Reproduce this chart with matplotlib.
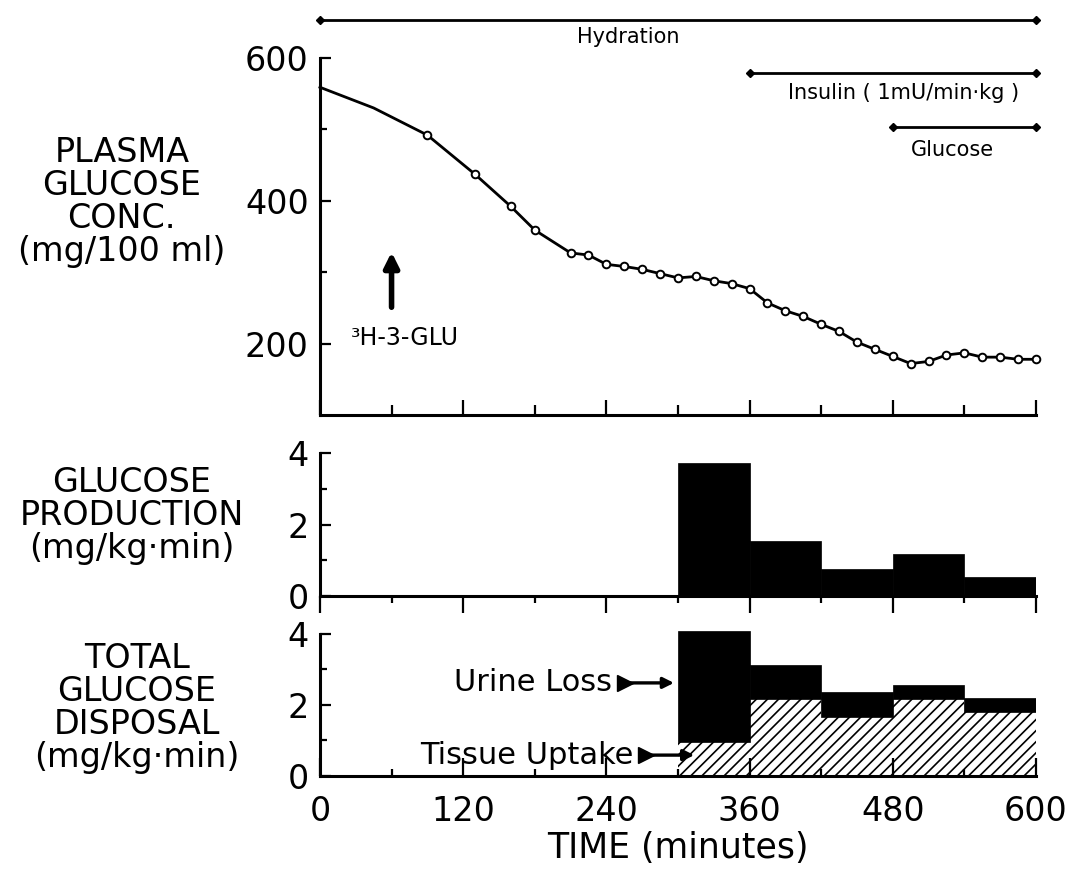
import numpy as np
import matplotlib
matplotlib.use("Agg")
import matplotlib.pyplot as plt

# ==============================
# DATA
# ==============================
# plasma glucose curve (mg/100 ml); first two points are on the line only
curve_time = [0, 45, 90, 130, 160, 180, 210, 225, 240, 255, 270, 285, 300, 315,
              330, 345, 360, 375, 390, 405, 420, 435, 450, 465, 480, 495, 510,
              525, 540, 555, 570, 585, 600]
curve_glucose = [559, 530, 492, 437, 392, 359, 327, 324, 311, 308, 304, 298, 292,
                 294, 288, 284, 277, 257, 246, 238, 227, 217, 202, 192, 182, 172,
                 175, 184, 187, 181, 181, 178, 178]
first_marker = 2  # markers start at t = 90

# infusion periods (minutes)
periods = ["Hydration", "Insulin ( 1mU/min\u00b7kg )", "Glucose"]
period_start = [0, 360, 480]
period_end = [600, 600, 600]

# rates per 60-min interval (mg/kg·min)
bin_start = [300, 360, 420, 480, 540]
production = [3.73, 1.55, 0.76, 1.17, 0.52]
total_disposal = [4.10, 3.12, 2.36, 2.56, 2.19]
tissue_uptake = [0.94, 2.17, 1.66, 2.17, 1.81]

x_ticks = [0, 120, 240, 360, 480, 600]

# ==============================
# FIGURE
# ==============================
plt.rcParams["font.family"] = "DejaVu Sans"
plt.rcParams["hatch.linewidth"] = 1.2

fig = plt.figure(figsize=(10.78, 8.72), dpi=100)
ax1 = fig.add_axes([0.2968, 0.5241, 0.6642, 0.4094])
ax2 = fig.add_axes([0.2968, 0.3165, 0.6642, 0.1640])
ax3 = fig.add_axes([0.2968, 0.1105, 0.6642, 0.1705])

for ax in (ax1, ax2, ax3):
    ax.set_xlim(0, 600)
    ax.spines["top"].set_visible(False)
    ax.spines["right"].set_visible(False)
    ax.spines["left"].set_linewidth(2.2)
    ax.spines["bottom"].set_linewidth(2.2)
    ax.set_xticks(x_ticks)
    ax.set_xticks(np.arange(60, 600, 120), minor=True)
    ax.tick_params(axis="y", which="both", direction="in", width=1.6,
                   labelsize=24, pad=8)
    ax.tick_params(axis="y", which="major", length=8)
    ax.tick_params(axis="y", which="minor", length=5)

# ---- top panel: plasma glucose ----
ax1.set_ylim(100, 600)
ax1.spines["left"].set_bounds(100, 600)
ax1.set_yticks([200, 400, 600])
ax1.set_yticks([300, 500], minor=True)
ax1.tick_params(axis="x", which="both", direction="in", width=1.6,
                labelbottom=False)
ax1.tick_params(axis="x", which="major", length=11)
ax1.tick_params(axis="x", which="minor", length=7)

ax1.plot(curve_time, curve_glucose, color="black", lw=2.0, clip_on=False)
ax1.plot(curve_time[first_marker:], curve_glucose[first_marker:], "o",
         ms=5.5, mfc="white", mec="black", mew=1.4, clip_on=False)

line_y = [653, 579, 503]
label_y = [629, 551, 471]
label_x = [258, 489, 530]
for name, s, e, ly, tx, ty in zip(periods, period_start, period_end,
                                  line_y, label_x, label_y):
    ax1.plot([s, e], [ly, ly], color="black", lw=2.0, marker="D", ms=4.5,
             clip_on=False)
    ax1.text(tx, ty, name, ha="center", va="center", fontsize=15)

ax1.annotate("", xy=(60, 332), xytext=(60, 247),
             arrowprops=dict(arrowstyle="-|>", lw=4, color="black",
                             mutation_scale=22))
ax1.text(26, 208, "\u00b3H-3-GLU", ha="left", va="center", fontsize=17)

# ---- middle panel: glucose production ----
ax2.set_ylim(0, 4)
ax2.set_yticks([0, 2, 4])
ax2.set_yticks([1, 3], minor=True)
ax2.tick_params(axis="x", which="both", direction="out", width=1.6,
                labelbottom=False)
ax2.tick_params(axis="x", which="major", length=12)
ax2.tick_params(axis="x", which="minor", length=5)
ax2.bar(bin_start, production, width=60, align="edge", color="black",
        edgecolor="black", lw=0.5)

# ---- bottom panel: total glucose disposal ----
urine_loss = [t - u for t, u in zip(total_disposal, tissue_uptake)]
ax3.set_ylim(0, 4.2)
ax3.spines["left"].set_bounds(0, 4)
ax3.set_yticks([0, 2, 4])
ax3.set_yticks([1, 3], minor=True)
ax3.tick_params(axis="x", which="both", direction="in", width=1.6,
                labelsize=24, pad=14)
ax3.tick_params(axis="x", which="major", length=13)
ax3.tick_params(axis="x", which="minor", length=5)
ax3.bar(bin_start, tissue_uptake, width=60, align="edge", color="white",
        edgecolor="black", hatch="///", lw=0)
ax3.bar(bin_start, urine_loss, width=60, align="edge", bottom=tissue_uptake,
        color="black", edgecolor="black", lw=0.5)

ax3.text(245, 2.62, "Urine Loss", ha="right", va="center", fontsize=22)
ax3.annotate("", xy=(299, 2.62), xytext=(252, 2.62),
             arrowprops=dict(arrowstyle="-|>", lw=2.4, color="black",
                             mutation_scale=16))
ax3.plot([256], [2.62], marker=">", ms=11, color="black")
ax3.text(263, 0.58, "Tissue Uptake", ha="right", va="center", fontsize=22)
ax3.annotate("", xy=(316, 0.58), xytext=(269, 0.58),
             arrowprops=dict(arrowstyle="-|>", lw=2.4, color="black",
                             mutation_scale=16))
ax3.plot([273], [0.58], marker=">", ms=11, color="black")

ax3.set_xlabel("TIME (minutes)", fontsize=25, labelpad=2)

# ---- left-hand labels ----
fig.text(0.113, 0.768, "PLASMA\nGLUCOSE\nCONC.\n(mg/100 ml)", ha="center",
         va="center", fontsize=24, linespacing=1.0)
fig.text(0.122, 0.409, "GLUCOSE\nPRODUCTION\n(mg/kg\u00b7min)", ha="center",
         va="center", fontsize=24, linespacing=1.0)
fig.text(0.127, 0.188, "TOTAL\nGLUCOSE\nDISPOSAL\n(mg/kg\u00b7min)", ha="center",
         va="center", fontsize=24, linespacing=1.0)

fig.savefig("out.png", dpi=100)
